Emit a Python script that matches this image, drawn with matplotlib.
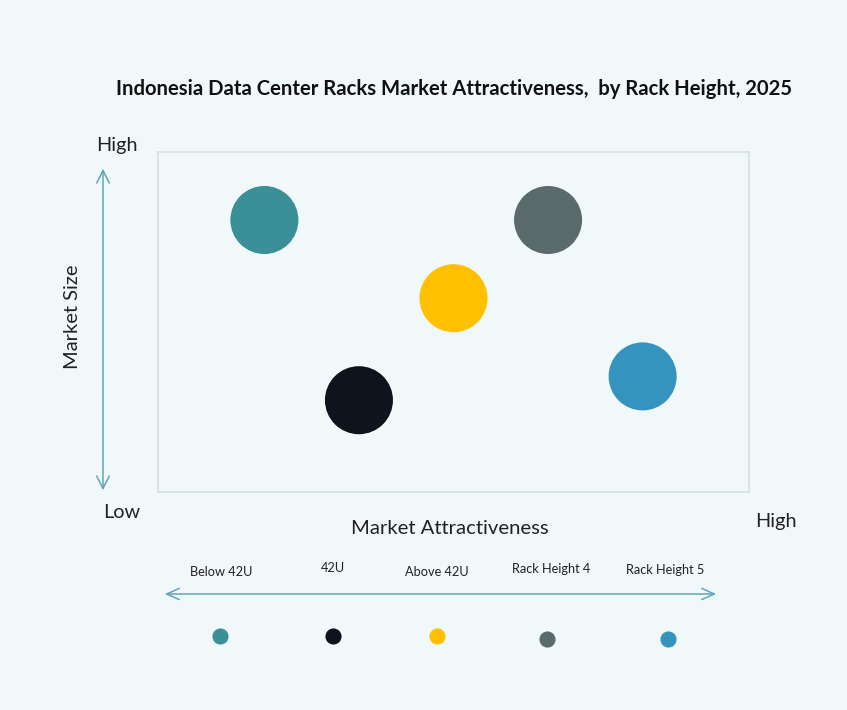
import matplotlib.pyplot as plt

# segment data
segments = ["Below 42U", "42U", "Above 42U", "Rack Height 4", "Rack Height 5"]
attractiveness = [1.8, 3.4, 5.0, 6.6, 8.2]   # x, 0-10 scale
market_size = [8.0, 2.7, 5.7, 8.0, 3.4]      # y, 0-10 scale
colors = ["#3a8f99", "#0e141c", "#ffc000", "#5b6b6b", "#3594bd"]

bg = "#f1f8f9"
arrow_col = "#5fa6b6"
txt = "#222222"
plt.rcParams['font.family'] = ['Lato', 'DejaVu Sans']

fig = plt.figure(figsize=(8.47, 7.1), dpi=100)
fig.patch.set_facecolor(bg)

W, H = 847, 710
# main bubble box
ax = fig.add_axes([158 / W, (H - 492) / H, 591 / W, 340 / H])
ax.set_facecolor(bg)
ax.scatter(attractiveness, market_size, s=2400, c=colors, linewidths=0, zorder=3)
ax.set_xlim(0, 10)
ax.set_ylim(0, 10)
ax.set_xticks([])
ax.set_yticks([])
for sp in ax.spines.values():
    sp.set_color("#d3e0e3")
    sp.set_linewidth(1.2)

# overlay in pixel coordinates for the annotations and legend
ov = fig.add_axes([0, 0, 1, 1], zorder=-1)
ov.set_xlim(0, W)
ov.set_ylim(H, 0)
ov.axis("off")

ov.text(454, 89, "Indonesia Data Center Racks Market Attractiveness,  by Rack Height, 2025",
        ha="center", va="center", fontsize=14.6, fontweight="bold", color="#111111")

# vertical axis arrow
ov.annotate("", xy=(103, 166), xytext=(103, 493),
            arrowprops=dict(arrowstyle="<->,head_length=0.9,head_width=0.45",
                            color=arrow_col, lw=1.1))
ov.text(117, 145, "High", ha="center", va="center", fontsize=14.3, color=txt)
ov.text(122, 513, "Low", ha="center", va="center", fontsize=14.3, color=txt)
ov.text(72, 317, "Market Size", ha="center", va="center", rotation=90,
        fontsize=14.5, color=txt)
ov.text(450, 529, "Market Attractiveness", ha="center", va="center",
        fontsize=14.6, color=txt)
ov.text(776, 521, "High", ha="center", va="center", fontsize=14.3, color=txt)

# legend strip
ov.annotate("", xy=(162, 594), xytext=(719, 594),
            arrowprops=dict(arrowstyle="<->,head_length=0.9,head_width=0.4",
                            color=arrow_col, lw=1.1))
leg_x = [221, 333, 437, 551, 665]
leg_dot_y = [636, 636, 636, 639, 639]
leg_txt_y = [572, 568, 572, 569, 570]
dot_x = [220, 333, 437, 547, 668]
for name, c, lx, dx, dy, ty in zip(segments, colors, leg_x, dot_x, leg_dot_y, leg_txt_y):
    ov.scatter([dx], [dy], s=135, c=[c], linewidths=0)
    ov.text(lx, ty, name, ha="center", va="center", fontsize=9.2, color=txt)

fig.savefig("out.png", dpi=100, facecolor=bg)
